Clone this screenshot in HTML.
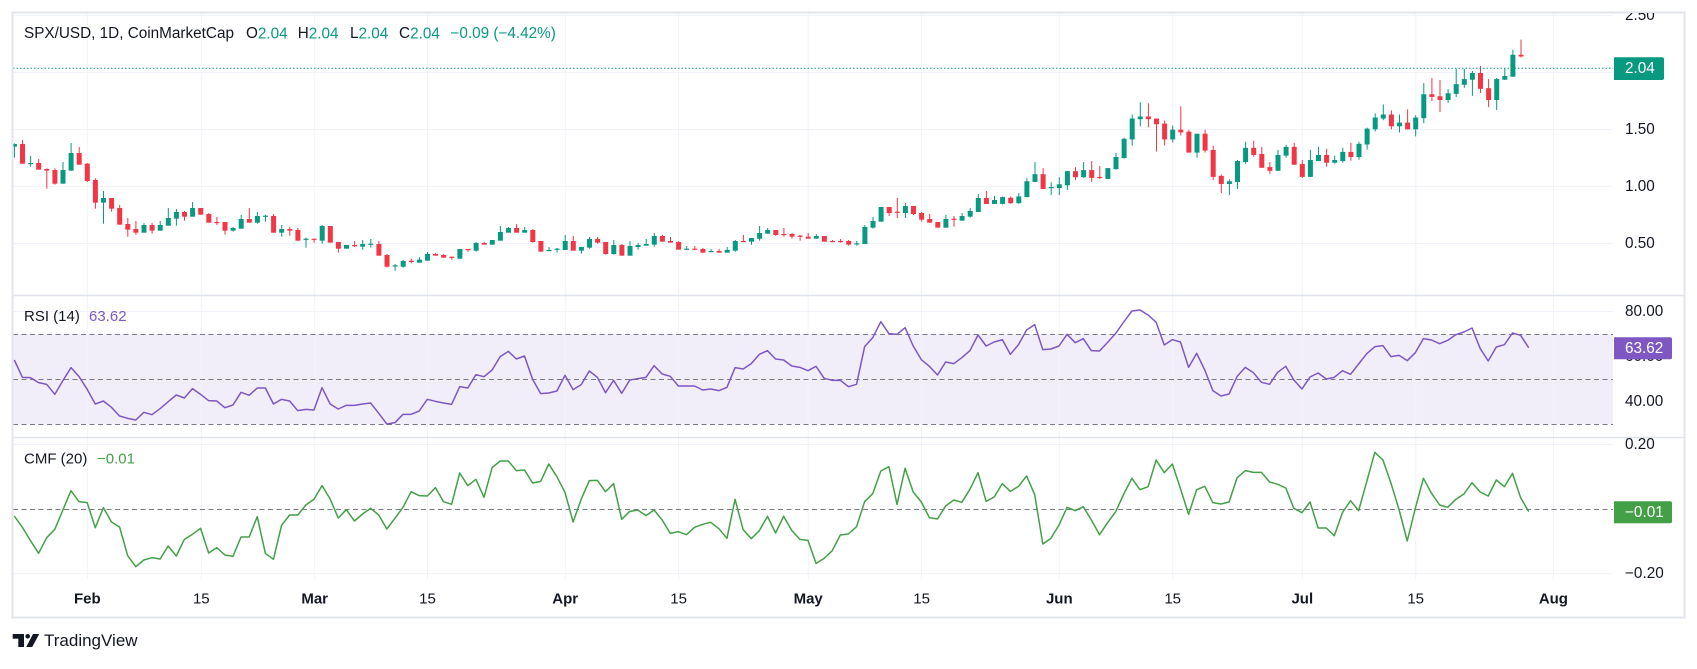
<!DOCTYPE html>
<html>
<head>
<meta charset="utf-8">
<style>
  html,body{margin:0;padding:0;background:#fff;}
  body{width:1697px;height:664px;overflow:hidden;}
  svg text{font-family:"Liberation Sans",Arial,sans-serif;}
</style>
</head>
<body>
<svg id="s" xmlns="http://www.w3.org/2000/svg" width="1697" height="664" viewBox="0 0 1697 664">
  <rect x="0" y="0" width="1697" height="664" fill="#ffffff"/>
  <defs>
    <clipPath id="cp"><rect x="13" y="13" width="1600" height="282"/></clipPath>
    <clipPath id="cr"><rect x="13" y="296" width="1600" height="141"/></clipPath>
    <clipPath id="cc"><rect x="13" y="438" width="1600" height="136"/></clipPath>
  </defs>

  <!-- horizontal grid -->
  <g stroke="#f0f3fa" stroke-width="1">
    <line x1="13" y1="15.5" x2="1613" y2="15.5"/>
    <line x1="13" y1="72.5" x2="1613" y2="72.5"/>
    <line x1="13" y1="129.5" x2="1613" y2="129.5"/>
    <line x1="13" y1="186.5" x2="1613" y2="186.5"/>
    <line x1="13" y1="243.5" x2="1613" y2="243.5"/>
    <line x1="13" y1="311.5" x2="1613" y2="311.5"/>
    <line x1="13" y1="356.5" x2="1613" y2="356.5"/>
    <line x1="13" y1="401.5" x2="1613" y2="401.5"/>
    <line x1="13" y1="444.5" x2="1613" y2="444.5"/>
    <line x1="13" y1="573.5" x2="1613" y2="573.5"/>
  </g>

  <!-- RSI band -->
  <rect x="13" y="334" width="1600" height="90.3" fill="#f2eef9"/>

  <!-- vertical grid -->
  <g id="vg" stroke="#f0f3fa" stroke-width="1"></g>

  <!-- dashed levels -->
  <g stroke="#787b86" stroke-width="1" stroke-dasharray="5 3.5">
    <line x1="13" y1="334.5" x2="1613" y2="334.5"/>
    <line x1="13" y1="379.5" x2="1613" y2="379.5"/>
    <line x1="13" y1="424.5" x2="1613" y2="424.5"/>
    <line x1="13" y1="509.5" x2="1613" y2="509.5"/>
  </g>

  <!-- candles -->
  <g id="candles" clip-path="url(#cp)"></g>

  <!-- current price dotted line -->
  <line x1="13" y1="68.3" x2="1613" y2="68.3" stroke="#089981" stroke-width="1" stroke-dasharray="1.5 2"/>

  <!-- indicator lines -->
  <g clip-path="url(#cr)"><polyline id="rsi" fill="none" stroke="#7e57c2" stroke-width="1.5" stroke-linejoin="round"/></g>
  <g clip-path="url(#cc)"><polyline id="cmf" fill="none" stroke="#43a047" stroke-width="1.5" stroke-linejoin="round"/></g>

  <!-- pane separators -->
  <g stroke="#e0e3eb" stroke-width="1.5">
    <line x1="13" y1="295.5" x2="1684" y2="295.5"/>
    <line x1="13" y1="437.5" x2="1684" y2="437.5"/>
  </g>

  <!-- outer border -->
  <rect x="12.5" y="12.5" width="1672" height="605" fill="none" stroke="#e3e5ec" stroke-width="2"/>

  <!-- header legend -->
  <g font-size="15.3" fill="#131722" dominant-baseline="central">
    <text x="24" y="33.7">SPX/USD, 1D, CoinMarketCap</text>
    <text x="246" y="33.7">O<tspan fill="#089981">2.04</tspan></text>
    <text x="297.7" y="33.7">H<tspan fill="#089981">2.04</tspan></text>
    <text x="350" y="33.7">L<tspan fill="#089981">2.04</tspan></text>
    <text x="399" y="33.7">C<tspan fill="#089981">2.04</tspan></text>
    <text x="450.4" y="33.7" fill="#089981">−0.09 (−4.42%)</text>
  </g>
  <g font-size="15" dominant-baseline="central">
    <text x="24" y="316.7" fill="#131722">RSI (14)</text>
    <text x="89" y="316.7" fill="#7e57c2">63.62</text>
    <text x="24" y="459" fill="#131722">CMF (20)</text>
    <text x="97" y="459" fill="#43a047">−0.01</text>
  </g>

  <!-- price axis labels -->
  <svg x="1614" y="13" width="70" height="282" overflow="hidden">
    <g font-size="15.3" fill="#131722" dominant-baseline="central">
      <text x="11" y="2.3">2.50</text>
      <text x="11" y="116.3">1.50</text>
      <text x="11" y="173.3">1.00</text>
      <text x="11" y="230.3">0.50</text>
    </g>
  </svg>
  <g font-size="15.3" fill="#131722" dominant-baseline="central">
    <text x="1625" y="311.7">80.00</text>
    <text x="1625" y="356.3">60.00</text>
    <text x="1625" y="401.3">40.00</text>
    <text x="1625" y="444.3">0.20</text>
    <text x="1625" y="573.3">−0.20</text>
  </g>

  <!-- value label boxes -->
  <path d="M1614 57.3 H1662 a2 2 0 0 1 2 2 V78 a2 2 0 0 1 -2 2 H1614 Z" fill="#089981"/>
  <text x="1625" y="68.7" font-size="15.3" fill="#ffffff" dominant-baseline="central">2.04</text>
  <path d="M1614 337.3 H1670 a2 2 0 0 1 2 2 V357.3 a2 2 0 0 1 -2 2 H1614 Z" fill="#7e57c2"/>
  <text x="1625" y="348.5" font-size="15.3" fill="#ffffff" dominant-baseline="central">63.62</text>
  <path d="M1614 501.3 H1670 a2 2 0 0 1 2 2 V521.3 a2 2 0 0 1 -2 2 H1614 Z" fill="#43a047"/>
  <text x="1625" y="512.5" font-size="15.3" fill="#ffffff" dominant-baseline="central">−0.01</text>

  <!-- time axis -->
  <g font-size="15" fill="#131722" text-anchor="middle" dominant-baseline="central">
    <text x="87.3" y="599" font-weight="bold">Feb</text>
    <text x="201.3" y="599">15</text>
    <text x="314.7" y="599" font-weight="bold">Mar</text>
    <text x="427.5" y="599">15</text>
    <text x="565.2" y="599" font-weight="bold">Apr</text>
    <text x="678.6" y="599">15</text>
    <text x="808.2" y="599" font-weight="bold">May</text>
    <text x="921.6" y="599">15</text>
    <text x="1059.3" y="599" font-weight="bold">Jun</text>
    <text x="1172.7" y="599">15</text>
    <text x="1302.3" y="599" font-weight="bold">Jul</text>
    <text x="1415.7" y="599">15</text>
    <text x="1553.4" y="599" font-weight="bold">Aug</text>
  </g>

  <!-- TradingView logo -->
  <g fill="#131722">
    <rect x="12.7" y="634" width="11.3" height="4.7"/>
    <rect x="18.3" y="634" width="5.7" height="13"/>
    <circle cx="27.7" cy="636.3" r="2.3"/>
    <polygon points="33,634 39.2,634 32.2,647 26.2,647"/>
  </g>
  <text x="44" y="640.5" font-size="17" fill="#131722" dominant-baseline="central">TradingView</text>
</svg>

<script>
(function(){
  var NS="http://www.w3.org/2000/svg";
  function el(tag,attrs,parent){var e=document.createElementNS(NS,tag);for(var k in attrs)e.setAttribute(k,attrs[k]);parent.appendChild(e);return e;}

  // vertical grid
  var vg=document.getElementById("vg");
  [87.3,201.3,314.7,427.5,565.2,678.6,808.2,921.6,1059.3,1172.7,1302.3,1415.7,1553.4].forEach(function(x){
    el("line",{x1:x,y1:13,x2:x,y2:579},vg);
  });

  var A=[[1,72,80,70,113],[0,72,131,60,131],[1,129,131,108,140],[0,129,149,117,149],[0,147,152,145,206],[0,150,191,145,194],[1,150,191,126,191],[1,99,152,69,152],[0,99,134,81,134],[0,131,183,129,186],
[0,180,248,175,266],[1,234,248,213,311],[0,234,266,234,275],[0,264,314,255,314],[0,312,329,294,350],[0,327,338,303,344],[1,315,338,309,338],[0,315,332,309,341],[1,315,332,303,332],[1,294,317,264,317],
[1,276,296,267,317],[0,276,290,273,302],[1,264,290,246,290],[0,264,284,264,284],[0,282,308,279,308],[0,306,309,291,315],[0,306,332,306,344],[1,324,332,321,335],[1,297,326,285,326],[0,297,308,264,308],
[1,288,308,276,311],[1,287,290,285,305],[0,288,338,282,338],[1,327,338,315,350],[0,327,332,321,347],[0,330,362,324,362],[1,356,358,353,383],[0,356,358,356,368],[1,318,362,315,371],[0,318,368,318,368],
[0,366,386,366,398],[1,375,386,375,386],[0,375,378,363,381],[1,372,380,360,389],[1,371,373,357,383],[0,372,407,363,407],[0,405,440,402,443],[1,436,438,432,452],[1,423,440,420,443],[0,422,426,416,430],
[1,419,428,411,428],[1,402,422,396,422],[0,402,407,399,407],[0,405,413,402,413],[0,410,413,410,419],[1,387,416,387,416],[0,387,390,387,395],[1,369,392,366,395],[0,369,374,366,374],[1,360,374,360,374],
[1,336,362,318,362],[1,324,338,321,338]];
  var B=[[0,324,338,312,338],[1,330,338,321,338],[0,330,366,327,368],[0,363,395,363,395],[1,390,392,381,392],[1,386,388,384,398],[1,363,390,345,390],[0,363,392,348,392],[1,381,392,381,401],[1,357,383,351,386],
[0,357,368,351,371],[0,366,402,366,404],[1,375,402,360,404],[0,375,407,372,407],[1,378,407,363,407],[1,375,381,369,389],[1,372,377,357,377],[1,348,374,339,380],[0,348,365,345,365],[0,363,368,351,368],
[0,366,389,363,389],[1,386,389,378,389],[0,386,389,378,389],[0,387,398,384,398],[1,393,395,387,395],[0,393,398,387,398],[1,390,398,381,398],[1,363,392,360,395],[0,363,365,345,365],[1,354,365,354,374],
[1,339,356,318,362],[1,330,341,324,341],[0,330,345,330,348],[0,342,344,324,350],[0,342,350,339,356],[0,347,349,345,362],[0,350,356,339,356],[1,348,356,342,356],[0,348,365,348,365],[0,363,365,360,365],
[0,363,365,357,368],[0,363,374,360,377],[1,370,372,363,377],[1,321,372,315,372],[1,303,323,291,326],[1,261,305,261,305],[0,261,279,261,288],[0,275,277,234,294],[1,258,279,249,294],[0,258,282,258,285],
[0,279,299,276,305],[0,297,308,282,308],[0,306,323,306,323],[1,297,323,285,323],[0,296,298,288,320],[1,288,302,279,302],[1,273,290,264,293],[1,234,276,222,276],[0,234,252,213,252],[1,240,252,228,252]];
  var C=[[1,470,490,468,492],[0,472,488,468,490],[1,468,488,458,490],[1,423,470,414,470],[1,402,425,366,425],[0,402,446,384,446],[1,440,442,426,464],[1,432,443,411,464],[1,393,435,393,449],[0,393,411,381,419],
[1,390,411,366,413],[0,390,413,363,425],[0,410,413,378,416],[1,384,416,384,416],[1,351,387,339,389],[1,297,354,294,356],[1,237,299,225,317],[1,231,239,189,260],[0,231,239,192,263],[0,237,254,237,335],
[0,252,299,243,317],[1,270,299,258,308],[0,270,278,201,287],[0,276,338,270,338],[1,282,338,282,353],[0,282,332,270,338],[0,330,410,318,419],[0,407,431,403,458],[1,423,431,417,464],[1,363,425,360,446],
[1,324,366,306,371],[0,324,345,303,350],[0,342,383,321,383],[0,381,392,366,401],[1,345,392,330,392],[1,321,347,315,353],[0,321,374,309,374],[0,372,410,360,413],[1,360,410,330,410],[1,345,363,321,363],
[0,345,368,327,380],[1,360,368,347,371],[1,336,363,324,368],[0,336,351,309,362],[1,312,351,306,359],[1,267,314,264,329],[1,234,269,222,275],[1,225,237,195,242],[0,225,260,213,269],[1,249,260,225,278],
[0,249,269,210,269],[1,234,269,227,290],[1,165,236,132,251],[0,165,173,117,185],[0,171,182,123,218],[1,162,182,150,191],[1,135,164,90,173],[1,120,137,90,146],[1,102,122,96,170],[0,102,149,81,161],
[0,147,182,120,203],[1,120,182,117,212],[1,111,122,87,122],[1,48,113,33,113],[0,48,53,3,56]];

  var cg=document.getElementById("candles");
  function addCandles(data,start,y0,s){
    data.forEach(function(d,k){
      var i=start+k;
      var x=14.4+8.1*i;
      var col=d[0]?"#089981":"#f23645";
      var bt=y0+d[1]/s, bb=y0+d[2]/s, wt=y0+d[3]/s, wb=y0+d[4]/s;
      wt=Math.min(wt,bt); wb=Math.max(wb,bb);
      el("rect",{x:(x-0.5).toFixed(2),y:wt.toFixed(2),width:1,height:(wb-wt).toFixed(2),fill:col},cg);
      var h=Math.max(bb-bt,1.2);
      el("rect",{x:(x-2.5).toFixed(2),y:bt.toFixed(2),width:5,height:h.toFixed(2),fill:col},cg);
    });
  }
  addCandles(A,0,120,3);
  addCandles(B,62,120,3);
  addCandles(C,122,38.6,2.965);

  var R=[210,262,263,278,283,313,272,233,260,298,342,333,352,378,385,390,367,374,356,335,315,324,296,313,332,333,353,345,307,316,294,294,342,328,333,362,358,360,293,342,357,346,346,342,339,370,402,398,373,373,363,328,334,339,343,290,294,254,260,240,200,184,207,198,
268,311,309,303,256,299,284,243,262,308,271,310,270,266,262,227,252,259,288,288,288,300,297,302,292,233,237,221,193,182,207,210,228,232,242,229,265,271,271,290,283,170,143,95,131,133,113,168,209,229,255,216,221,203,182,135,168,156,149,193,164,120,104,
179,177,168,133,158,146,182,183,157,130,96,63,60,75,97,165,149,156,232,190,240,302,318,312,259,232,248,277,283,247,229,270,297,261,249,267,262,242,253,222,191,170,167,200,196,212,188,146,150,161,151,134,126,114,175,213,171,164,129,136,173];
  var M=[678,712,752,790,743,718,660,602,635,638,713,653,696,711,797,830,810,803,807,768,798,748,733,715,789,773,795,799,741,741,680,790,808,706,675,675,645,628,587,627,684,659,693,672,655,675,717,685,652,605,617,618,593,635,643,549,587,568,622,533,513,513,542,540,
579,574,522,560,607,696,628,572,571,605,581,688,664,660,677,660,690,730,725,734,712,703,697,716,745,628,719,746,722,679,729,679,721,748,751,820,805,782,735,732,710,635,611,543,530,643,535,606,636,683,687,648,630,637,598,548,634,621,581,604,589,558,614,
762,745,705,652,662,650,690,734,698,665,612,565,599,590,510,548,522,596,673,599,589,638,642,636,563,542,547,547,576,583,594,655,668,636,714,714,737,668,632,662,575,487,510,580,660,753,655,565,610,645,652,628,612,578,606,618,570,590,550,623,665];

  function pts(arr){
    var step=(1528.7-14.3)/(arr.length-1);
    return arr.map(function(Y,i){return (14.3+step*i).toFixed(2)+","+(290+Y/3).toFixed(2);}).join(" ");
  }
  document.getElementById("rsi").setAttribute("points",pts(R));
  document.getElementById("cmf").setAttribute("points",pts(M));
})();
</script>
</body>
</html>
